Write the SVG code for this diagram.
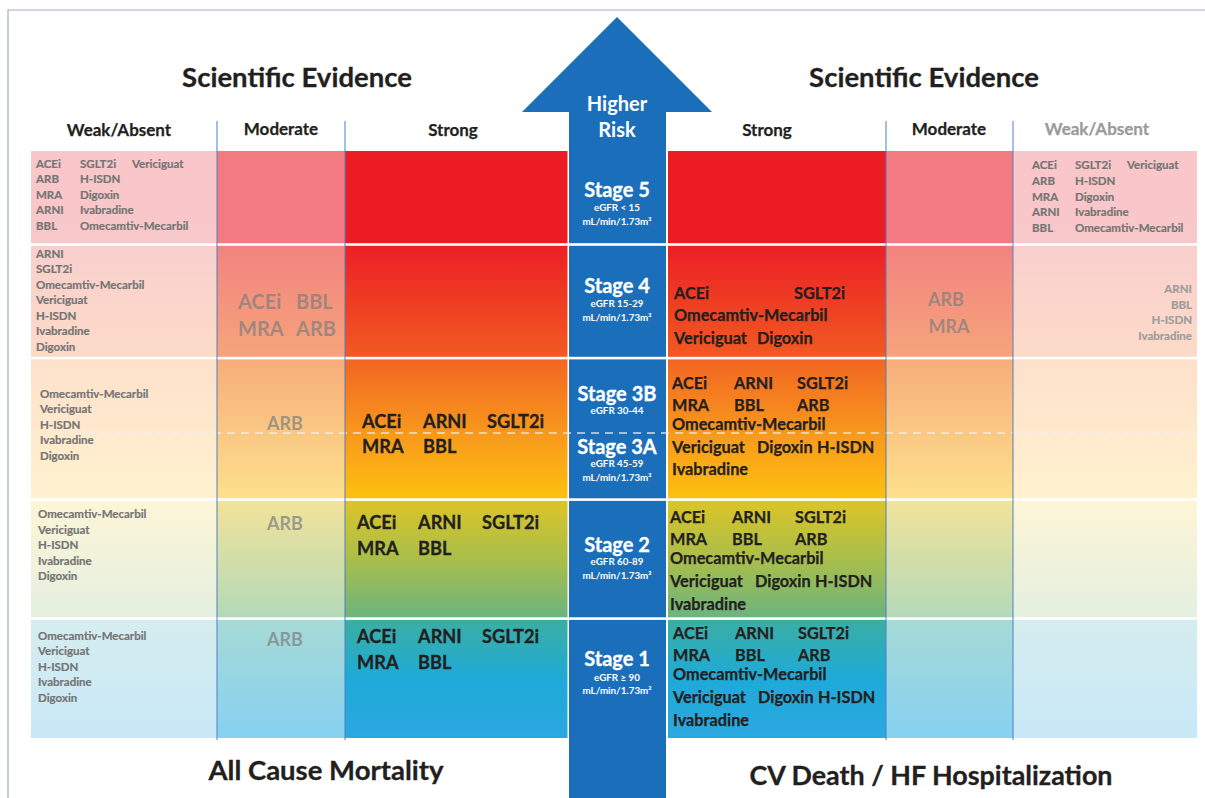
<svg xmlns="http://www.w3.org/2000/svg" width="1205" height="798" viewBox="0 0 1205 798">
<defs>
<linearGradient id="gStrong" gradientUnits="userSpaceOnUse" x1="0" y1="151" x2="0" y2="738">
<stop offset="0" stop-color="#ec1c24"/><stop offset="0.157" stop-color="#ec1c24"/>
<stop offset="0.16" stop-color="#ec1f25"/><stop offset="0.351" stop-color="#f15a22"/>
<stop offset="0.354" stop-color="#f26522"/><stop offset="0.48" stop-color="#f8981d"/><stop offset="0.591" stop-color="#fdc00f"/>
<stop offset="0.596" stop-color="#dcc428"/><stop offset="0.697" stop-color="#a8be4b"/><stop offset="0.794" stop-color="#6cb47e"/>
<stop offset="0.799" stop-color="#3aaea3"/><stop offset="0.9" stop-color="#1eaad8"/><stop offset="1" stop-color="#2ba8e0"/>
</linearGradient>
<linearGradient id="gMod" gradientUnits="userSpaceOnUse" x1="0" y1="151" x2="0" y2="738">
<stop offset="0" stop-color="#f27a80"/><stop offset="0.157" stop-color="#f27a80"/>
<stop offset="0.16" stop-color="#f2837f"/><stop offset="0.351" stop-color="#f6a47c"/>
<stop offset="0.354" stop-color="#f7ad7a"/><stop offset="0.591" stop-color="#fde08c"/>
<stop offset="0.596" stop-color="#f1e39a"/><stop offset="0.794" stop-color="#b4d9b8"/>
<stop offset="0.799" stop-color="#a6dad6"/><stop offset="1" stop-color="#86d1f1"/>
</linearGradient>
<linearGradient id="gWeak" gradientUnits="userSpaceOnUse" x1="0" y1="151" x2="0" y2="738">
<stop offset="0" stop-color="#f9c6c9"/><stop offset="0.157" stop-color="#f9c8cb"/>
<stop offset="0.16" stop-color="#f9cfcd"/><stop offset="0.351" stop-color="#fcdbc8"/>
<stop offset="0.354" stop-color="#fde0cb"/><stop offset="0.591" stop-color="#fff2cf"/>
<stop offset="0.596" stop-color="#fdf5d6"/><stop offset="0.794" stop-color="#e4f0e0"/>
<stop offset="0.799" stop-color="#d6edef"/><stop offset="1" stop-color="#c8e8f7"/>
</linearGradient>
<style>
text{font-family:Lato,"Open Sans","Liberation Sans",sans-serif;font-weight:bold}
.title{font-size:27.5px;fill:#231f20;text-anchor:middle;stroke:#231f20;stroke-width:0.3}
.hdr{font-size:17px;fill:#231f20;text-anchor:middle;stroke:#231f20;stroke-width:0.25}
.hdrg{font-size:17px;fill:#9a9a9a;text-anchor:middle;stroke:#9a9a9a;stroke-width:0.25}
.wh{fill:#ffffff;text-anchor:middle}
.stg{font-size:20px;stroke:#ffffff;stroke-width:0.3}
.egfr{font-size:9.8px}
.wk{font-size:11.5px;fill:#747474;stroke:#747474;stroke-width:0.2}
.wkr{font-size:11.5px;fill:#9c9c9c;text-anchor:end;stroke:#9c9c9c;stroke-width:0.2}
.md{font-size:20px;fill:#7f7f7f;fill-opacity:0.72}
.mdc{font-size:18px;fill:#7f7f7f;fill-opacity:0.72;text-anchor:middle}
.st{font-size:18.2px;fill:#231f20;stroke:#231f20;stroke-width:0.3}
.sr{font-size:16.3px;fill:#231f20;stroke:#231f20;stroke-width:0.25}
.bot{font-size:26px;fill:#231f20;text-anchor:middle;stroke:#231f20;stroke-width:0.3}
.vl{stroke:#4f7fc4;stroke-width:1}
.sep{fill:#ffffff}
</style>
</defs>
<rect width="1205" height="798" fill="#ffffff"/>
<g id="frame" fill="none" stroke="#a3abc9" stroke-width="1.2">
<path d="M8,798 V10 H1205"/>
</g>

<g id="cells">
<rect x="31" y="151" width="186" height="587" fill="url(#gWeak)"/>
<rect x="217" y="151" width="128" height="587" fill="url(#gMod)"/>
<rect x="345" y="151" width="222.5" height="587" fill="url(#gStrong)"/>
<rect x="668" y="151" width="218" height="587" fill="url(#gStrong)"/>
<rect x="886" y="151" width="127" height="587" fill="url(#gMod)"/>
<rect x="1013" y="151" width="184" height="587" fill="url(#gWeak)"/>
</g>

<g id="risk-arrow">
<polygon points="617,17 712,112 666,112 666,798 569,798 569,112 522,112" fill="#1b6fba"/>
<text class="wh" x="617" y="111" font-size="20">Higher</text>
<text class="wh" x="617" y="137" font-size="20">Risk</text>
</g>

<g id="separators">
<rect class="sep" x="25" y="243.2" width="1180" height="2.6"/>
<rect class="sep" x="25" y="356.8" width="1180" height="2.6"/>
<rect class="sep" x="25" y="498.3" width="1180" height="2.6"/>
<rect class="sep" x="25" y="617.3" width="1180" height="2.6"/>
<line x1="87" y1="433" x2="1197" y2="433" stroke="#eeeeee" stroke-opacity="0.85" stroke-width="1.6" stroke-dasharray="8,6"/>
</g>

<g id="headers">
<text class="title" x="297" y="87">Scientific Evidence</text>
<text class="title" x="924" y="87">Scientific Evidence</text>
<text class="hdr" x="119" y="136">Weak/Absent</text>
<text class="hdr" x="281" y="135">Moderate</text>
<text class="hdr" x="453" y="136">Strong</text>
<text class="hdr" x="767" y="136">Strong</text>
<text class="hdr" x="949" y="135">Moderate</text>
<text class="hdrg" x="1097" y="135">Weak/Absent</text>
</g>

<g id="stage5">
<text class="wh stg" x="617" y="197">Stage 5</text>
<text class="wh egfr" x="617" y="211">eGFR &lt; 15</text>
<text class="wh egfr" x="617" y="225">mL/min/1.73m²</text>
<g class="wk">
<text x="36" y="168">ACEi</text><text x="80" y="168">SGLT2i</text><text x="132" y="168">Vericiguat</text>
<text x="36" y="183">ARB</text><text x="80" y="183">H-ISDN</text>
<text x="36" y="199">MRA</text><text x="80" y="199">Digoxin</text>
<text x="36" y="214">ARNI</text><text x="80" y="214">Ivabradine</text>
<text x="36" y="230">BBL</text><text x="80" y="230">Omecamtiv-Mecarbil</text>
</g>
<g class="wk">
<text x="1032" y="169">ACEi</text><text x="1075" y="169">SGLT2i</text><text x="1127" y="169">Vericiguat</text>
<text x="1032" y="185">ARB</text><text x="1075" y="185">H-ISDN</text>
<text x="1032" y="201">MRA</text><text x="1075" y="201">Digoxin</text>
<text x="1032" y="216">ARNI</text><text x="1075" y="216">Ivabradine</text>
<text x="1032" y="232">BBL</text><text x="1075" y="232">Omecamtiv-Mecarbil</text>
</g>
</g>

<g id="stage4">
<text class="wh stg" x="617" y="293">Stage 4</text>
<text class="wh egfr" x="617" y="307">eGFR 15-29</text>
<text class="wh egfr" x="617" y="321">mL/min/1.73m²</text>
<g class="wk">
<text x="36" y="258">ARNI</text><text x="36" y="273">SGLT2i</text><text x="36" y="289">Omecamtiv-Mecarbil</text>
<text x="36" y="304">Vericiguat</text><text x="36" y="320">H-ISDN</text><text x="36" y="335">Ivabradine</text><text x="36" y="351">Digoxin</text>
</g>
<g class="md">
<text x="238" y="309">ACEi</text><text x="296" y="309">BBL</text>
<text x="238" y="336">MRA</text><text x="296" y="336">ARB</text>
</g>
<g class="sr">
<text x="674" y="299">ACEi</text><text x="794" y="299">SGLT2i</text>
<text x="674" y="321">Omecamtiv-Mecarbil</text>
<text x="674" y="344">Vericiguat</text><text x="757" y="344">Digoxin</text>
</g>
<text class="mdc" x="946" y="306">ARB</text>
<text class="mdc" x="949" y="333">MRA</text>
<g class="wkr">
<text x="1192" y="293">ARNI</text><text x="1192" y="309">BBL</text><text x="1192" y="324">H-ISDN</text><text x="1192" y="340">Ivabradine</text>
</g>
</g>

<g id="stage3">
<text class="wh stg" x="617" y="401">Stage 3B</text>
<text class="wh egfr" x="617" y="414">eGFR 30-44</text>
<text class="wh stg" x="617" y="454">Stage 3A</text>
<text class="wh egfr" x="617" y="467">eGFR 45-59</text>
<text class="wh egfr" x="617" y="481">mL/min/1.73m²</text>
<g class="wk">
<text x="40" y="398">Omecamtiv-Mecarbil</text><text x="40" y="413">Vericiguat</text><text x="40" y="429">H-ISDN</text><text x="40" y="444">Ivabradine</text><text x="40" y="460">Digoxin</text>
</g>
<text class="mdc" x="285" y="430">ARB</text>
<g class="st">
<text x="362" y="428">ACEi</text><text x="423" y="428">ARNI</text><text x="487" y="428">SGLT2i</text>
<text x="362" y="453">MRA</text><text x="423" y="453">BBL</text>
</g>
<g class="sr">
<text x="672" y="389">ACEi</text><text x="734" y="389">ARNI</text><text x="797" y="389">SGLT2i</text>
<text x="672" y="411">MRA</text><text x="734" y="411">BBL</text><text x="797" y="411">ARB</text>
<text x="672" y="430">Omecamtiv-Mecarbil</text>
<text x="672" y="453">Vericiguat</text><text x="757" y="453">Digoxin</text><text x="817" y="453">H-ISDN</text>
<text x="672" y="475">Ivabradine</text>
</g>
</g>

<g id="stage2">
<text class="wh stg" x="617" y="552">Stage 2</text>
<text class="wh egfr" x="617" y="565">eGFR 60-89</text>
<text class="wh egfr" x="617" y="579">mL/min/1.73m²</text>
<g class="wk">
<text x="38" y="518">Omecamtiv-Mecarbil</text><text x="38" y="534">Vericiguat</text><text x="38" y="549">H-ISDN</text><text x="38" y="565">Ivabradine</text><text x="38" y="580">Digoxin</text>
</g>
<text class="mdc" x="285" y="530">ARB</text>
<g class="st">
<text x="357" y="529">ACEi</text><text x="418" y="529">ARNI</text><text x="482" y="529">SGLT2i</text>
<text x="357" y="555">MRA</text><text x="418" y="555">BBL</text>
</g>
<g class="sr">
<text x="670" y="523">ACEi</text><text x="732" y="523">ARNI</text><text x="795" y="523">SGLT2i</text>
<text x="670" y="545">MRA</text><text x="732" y="545">BBL</text><text x="795" y="545">ARB</text>
<text x="670" y="564">Omecamtiv-Mecarbil</text>
<text x="670" y="587">Vericiguat</text><text x="755" y="587">Digoxin</text><text x="815" y="587">H-ISDN</text>
<text x="670" y="610">Ivabradine</text>
</g>
</g>

<g id="stage1">
<text class="wh stg" x="617" y="666">Stage 1</text>
<text class="wh egfr" x="617" y="681">eGFR ≥ 90</text>
<text class="wh egfr" x="617" y="694">mL/min/1.73m²</text>
<g class="wk">
<text x="38" y="640">Omecamtiv-Mecarbil</text><text x="38" y="655">Vericiguat</text><text x="38" y="671">H-ISDN</text><text x="38" y="686">Ivabradine</text><text x="38" y="702">Digoxin</text>
</g>
<text class="mdc" x="285" y="646">ARB</text>
<g class="st">
<text x="357" y="643">ACEi</text><text x="418" y="643">ARNI</text><text x="482" y="643">SGLT2i</text>
<text x="357" y="669">MRA</text><text x="418" y="669">BBL</text>
</g>
<g class="sr">
<text x="673" y="639">ACEi</text><text x="735" y="639">ARNI</text><text x="798" y="639">SGLT2i</text>
<text x="673" y="661">MRA</text><text x="735" y="661">BBL</text><text x="798" y="661">ARB</text>
<text x="673" y="680">Omecamtiv-Mecarbil</text>
<text x="673" y="703">Vericiguat</text><text x="758" y="703">Digoxin</text><text x="818" y="703">H-ISDN</text>
<text x="673" y="726">Ivabradine</text>
</g>
</g>

<g id="column-lines">
<line class="vl" x1="217" y1="121" x2="217" y2="740"/>
<line class="vl" x1="345" y1="121" x2="345" y2="740"/>
<line class="vl" x1="886" y1="121" x2="886" y2="740"/>
<line class="vl" x1="1013" y1="121" x2="1013" y2="740"/>
</g>

<g id="footer">
<text class="bot" x="326" y="780" textLength="235" lengthAdjust="spacingAndGlyphs">All Cause Mortality</text>
<text class="bot" x="931" y="785" textLength="363" lengthAdjust="spacingAndGlyphs">CV Death / HF Hospitalization</text>
</g>
</svg>
